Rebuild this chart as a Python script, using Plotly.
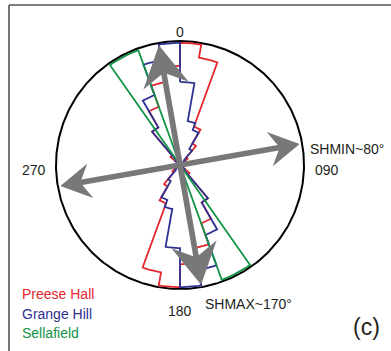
import numpy as np
import plotly.graph_objects as go

# Axial rose data: relative frequency per 10-degree bin over 0-180 (mirrored to 180-360)
bin_width = 10
bin_starts = list(range(0, 180, bin_width))
preese_hall = [0.985, 0.88, 0.33, 0.2, 0.08, 0, 0, 0, 0, 0, 0, 0, 0, 0.1, 0.35, 0.5, 0.68, 0.8]
grange_hill = [0.67, 0.36, 0.3, 0.15, 0.05, 0, 0, 0, 0, 0, 0, 0, 0, 0.05, 0.35, 0.6, 0.86, 0.985]
# Sellafield: a single 15-degree class
sellafield_starts = [145]
sellafield_width = 15
sellafield = [0.985]

series = [
    ("Preese Hall", bin_starts, bin_width, preese_hall, "#e3262d"),
    ("Grange Hill", bin_starts, bin_width, grange_hill, "#2e3192"),
    ("Sellafield", sellafield_starts, sellafield_width, sellafield, "#139447"),
]

shmin_azimuth = 80
shmax_azimuth = 170
stress_labels = ["SHMIN~80°", "SHMAX~170°"]
compass_labels = ["0", "090", "180", "270"]
compass_angles = [0, 90, 180, 270]

ARROW_GREY = "#787878"
TEXT = "#231f20"


def rose_outline(starts, width, values):
    """Stepped outline of an axial rose (each class mirrored by 180 deg)."""
    xs, ys = [], []
    for offset in (0, 180):
        for s, v in sorted(zip(starts, values)):
            a0 = np.radians(s + offset)
            a1 = np.radians(s + offset + width)
            if v <= 0:
                continue
            xs.append(0.0); ys.append(0.0)
            th = np.linspace(a0, a1, 8)
            xs.extend(v * np.sin(th)); ys.extend(v * np.cos(th))
            xs.append(0.0); ys.append(0.0)
    return xs, ys


def rose_outline_contiguous(starts, width, values):
    """Continuous stepped outline around the full circle."""
    xs, ys = [], []
    for offset in (0, 180):
        for s, v in zip(starts, values):
            th = np.radians(np.linspace(s + offset, s + offset + width, 8))
            xs.extend(v * np.sin(th)); ys.extend(v * np.cos(th))
    xs.append(xs[0]); ys.append(ys[0])
    return xs, ys


def double_arrow(az, tip, head_len, head_half, shaft_half, notch=0.72):
    a = np.radians(az)
    d = np.array([np.sin(a), np.cos(a)])
    n = np.array([np.cos(a), -np.sin(a)])
    pts = [
        tip * d,
        (tip - head_len) * d + head_half * n,
        (tip - head_len * notch) * d + shaft_half * n,
        -(tip - head_len * notch) * d + shaft_half * n,
        -(tip - head_len) * d + head_half * n,
        -tip * d,
        -(tip - head_len) * d - head_half * n,
        -(tip - head_len * notch) * d - shaft_half * n,
        (tip - head_len * notch) * d - shaft_half * n,
        (tip - head_len) * d - head_half * n,
        tip * d,
    ]
    pts = np.array(pts)
    return pts[:, 0], pts[:, 1]


fig = go.Figure()

# Outer circle
t = np.linspace(0, 2 * np.pi, 361)
fig.add_trace(go.Scatter(x=np.sin(t), y=np.cos(t), mode="lines",
                         line=dict(color="black", width=2), hoverinfo="skip"))

for name, starts, width, vals, color in series:
    if len(starts) > 1:
        xs, ys = rose_outline_contiguous(starts, width, vals)
    else:
        xs, ys = rose_outline(starts, width, vals)
    fig.add_trace(go.Scatter(x=xs, y=ys, mode="lines", name=name,
                             line=dict(color=color, width=1.8)))

# Stress direction arrows
for az, hl, hw in ((shmin_azimuth, 0.245, 0.14), (shmax_azimuth, 0.33, 0.185)):
    ax, ay = double_arrow(az, 0.98, hl, hw, 0.023)
    fig.add_trace(go.Scatter(x=ax, y=ay, mode="lines", fill="toself",
                             fillcolor=ARROW_GREY, line=dict(width=0, color=ARROW_GREY),
                             hoverinfo="skip"))

annotations = []
label_radius = {0: 1.073, 90: 1.185, 180: 1.18, 270: 1.18}
label_drop = {0: 0.0, 90: -0.04, 180: 0.0, 270: -0.04}
for lab, ang in zip(compass_labels, compass_angles):
    r = label_radius[ang]
    annotations.append(dict(x=r * np.sin(np.radians(ang)),
                            y=r * np.cos(np.radians(ang)) + label_drop[ang],
                            text=lab, showarrow=False, xanchor="center", yanchor="middle",
                            font=dict(size=14, color=TEXT)))

annotations.append(dict(x=1.032, y=0.129, text=stress_labels[0], showarrow=False,
                        xanchor="left", yanchor="middle", font=dict(size=14, color=TEXT)))
annotations.append(dict(x=0.185, y=-1.121, text=stress_labels[1], showarrow=False,
                        xanchor="left", yanchor="middle", font=dict(size=14, color=TEXT)))

# Colour-coded site key
for i, (name, _, _, _, color) in enumerate(series):
    annotations.append(dict(xref="paper", yref="paper", x=20 / 391, y=1 - (294 + 19.5 * i) / 351,
                            text=name, showarrow=False, xanchor="left", yanchor="middle",
                            font=dict(size=14, color=color)))

annotations.append(dict(xref="paper", yref="paper", x=366 / 391, y=1 - 327 / 351, text="(c)",
                        showarrow=False, xanchor="center", yanchor="middle",
                        font=dict(size=23, color=TEXT)))

R_PX = 124
CX, CY = 180, 165
fig.update_layout(
    width=391, height=351, autosize=False,
    margin=dict(l=0, r=0, t=0, b=0),
    paper_bgcolor="white", plot_bgcolor="white",
    showlegend=False,
    font=dict(family="Liberation Sans, Arial, sans-serif"),
    xaxis=dict(range=[-CX / R_PX, (391 - CX) / R_PX], visible=False, fixedrange=True),
    yaxis=dict(range=[-(351 - CY) / R_PX, CY / R_PX], visible=False, fixedrange=True),
    annotations=annotations,
    shapes=[
        dict(type="line", xref="paper", yref="paper", x0=9 / 391, x1=1, y0=1 - 5 / 351, y1=1 - 5 / 351,
             line=dict(color="#555555", width=1.6)),
        dict(type="line", xref="paper", yref="paper", x0=9 / 391, x1=9 / 391, y0=0, y1=1 - 5 / 351,
             line=dict(color="#555555", width=1.6)),
    ],
)

fig.write_html("out.html")
